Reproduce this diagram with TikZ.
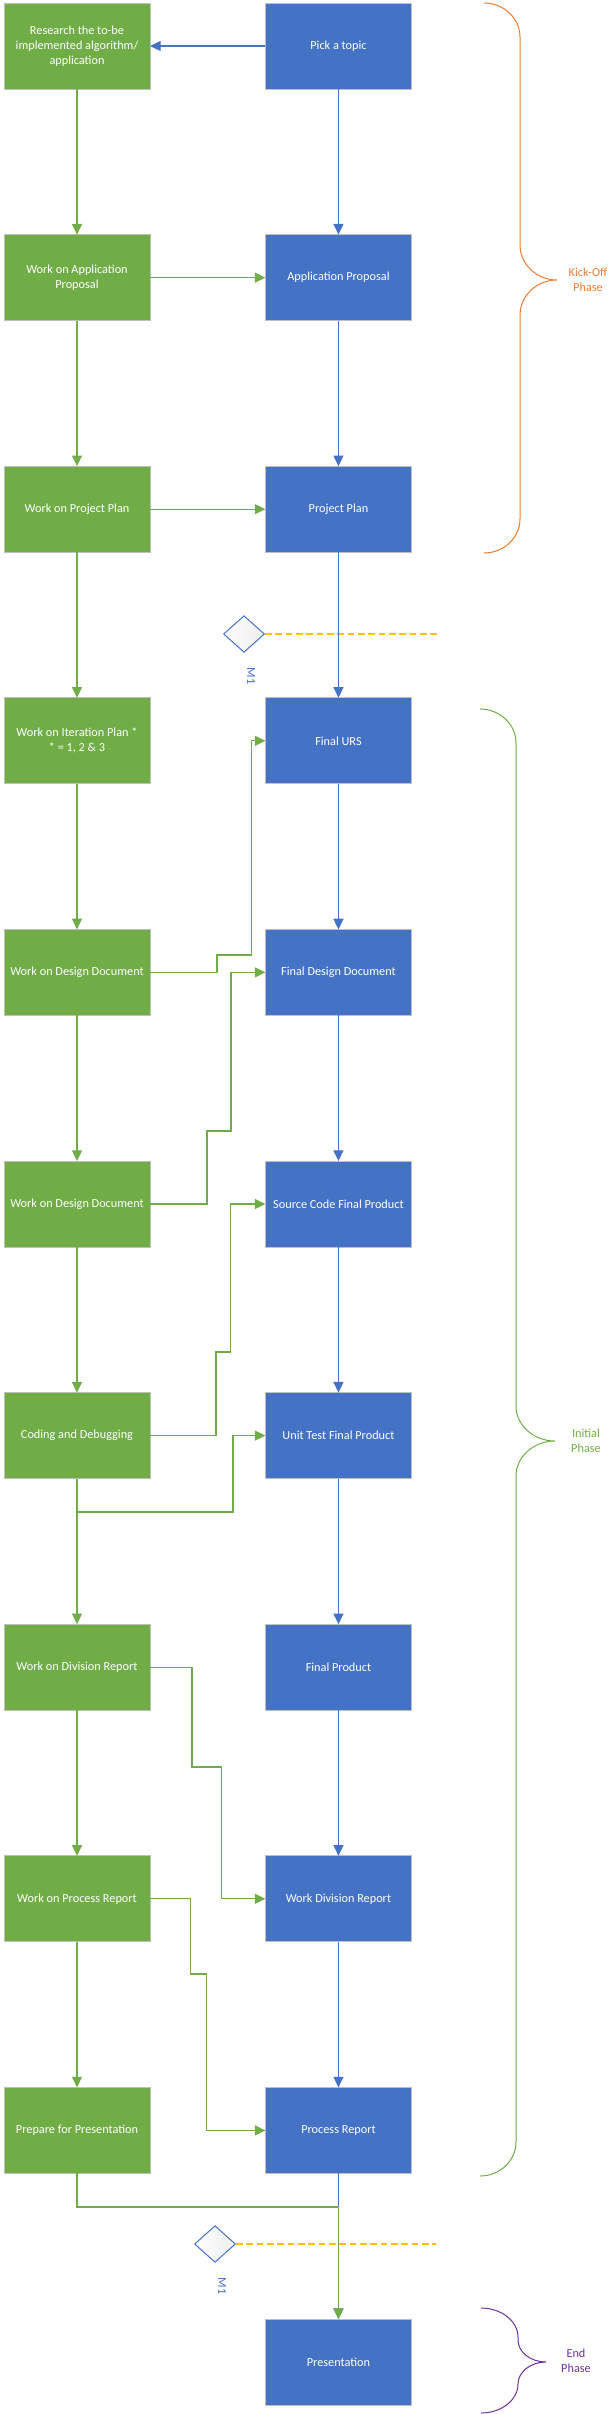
\documentclass[tikz,border=0pt]{standalone}
\usepackage{fontspec}
\setmainfont{Carlito}
\usepackage{tikz}
\usetikzlibrary{chains,positioning,arrows.meta,shapes.geometric}
\definecolor{workgreen}{HTML}{70AD47}
\definecolor{docblue}{HTML}{4472C4}
\definecolor{kickorange}{HTML}{ED7D31}
\definecolor{endpurple}{HTML}{7030A0}
\definecolor{mileamber}{HTML}{FFC000}
\tikzset{
  pb box/.style={
    rectangle,
    minimum width=109.5pt,
    minimum height=64.5pt,
    inner sep=2pt,
    outer sep=0pt,
    draw=black!25,
    line width=0.75pt,
    text=white,
    align=center,
    font=\fontsize{9.2}{11.25}\selectfont,
  },
  work box/.style={pb box, fill=workgreen},
  doc box/.style={pb box, fill=docblue},
  work arrow/.style={-{Triangle[length=8pt,width=7.5pt]}, line width=0.9pt, draw=workgreen},
  doc arrow/.style={-{Triangle[length=8pt,width=7.5pt]}, line width=0.9pt, draw=docblue},
  work line/.style={line width=0.9pt, draw=workgreen},
  milestone/.style={
    diamond,
    minimum width=30.75pt,
    minimum height=27.5pt,
    inner sep=0pt,
    draw=docblue,
    line width=0.75pt,
    left color=white,
    right color=black!7,
  },
  milestone label/.style={text=docblue, rotate=-90, inner sep=0pt, font=\fontsize{9.2}{11.25}\selectfont},
  milestone line/.style={draw=mileamber, dash pattern=on 5pt off 2.75pt, line width=0.9pt},
  phase brace/.style={line width=0.75pt},
  phase label/.style={align=center, inner sep=0pt, font=\fontsize{9.2}{11.25}\selectfont},
}
% #1 options, #2 tip x, #3 spine x, #4 point x, #5 top, #6 middle, #7 bottom, #8 end radius, #9 middle radius
\newcommand{\phasebrace}[9]{%
  \draw[phase brace,#1] (#2,#5)
    .. controls ({#2+0.55*(#3-#2)},#5) and (#3,{#5+0.45*#8}) .. (#3,{#5+#8})
    -- (#3,{#6-#9})
    .. controls (#3,{#6-0.45*#9}) and ({#4-0.55*(#4-#3)},#6) .. (#4,#6)
    .. controls ({#4-0.55*(#4-#3)},#6) and (#3,{#6+0.45*#9}) .. (#3,{#6+#9})
    -- (#3,{#7-#8})
    .. controls (#3,{#7-0.45*#8}) and ({#2+0.55*(#3-#2)},#7) .. (#2,#7);}

\begin{document}
\begin{tikzpicture}[
  x=0.75pt, y=-0.75pt,
  node distance=109.2pt and 86.6pt,
]
  \useasboundingbox (0,0) rectangle (610,2414);

  % milestones
  \node[milestone] (m1a) at (244,634) {};
  \coordinate (m1a end) at (438,634);
  \draw[milestone line] (m1a.east) -- (m1a end);
  \node[milestone label] (m1a label) at ([xshift=5.25pt,yshift=-31.5pt]m1a.center) {M1};
  \node[milestone] (m1b) at (215,2244) {};
  \coordinate (m1b end) at (436,2244);
  \draw[milestone line] (m1b.east) -- (m1b end);
  \node[milestone label] (m1b label) at ([xshift=5.25pt,yshift=-31.5pt]m1b.center) {M1};

  % tasks
  \begin{scope}[start chain=work going below, every node/.style={work box, on chain}, every join/.style={work arrow}]
    \node at (77,46) (research) {Research the to-be\\implemented algorithm/\\application};
    \node[join] (workap) {Work on Application\\Proposal};
    \node[join] (workpp) {Work on Project Plan};
    \node[join] (iterplan) {Work on Iteration Plan *\\* = 1, 2 \& 3};
    \node[join] (design1) {Work on Design Document};
    \node[join] (design2) {Work on Design Document};
    \node[join] (coding) {Coding and Debugging};
    \node[join] (division) {Work on Division Report};
    \node[join] (processwork) {Work on Process Report};
    \node[join] (prepare) {Prepare for Presentation};
  \end{scope}

  % deliverables
  \begin{scope}[start chain=doc going below, every node/.style={doc box, on chain}, every join/.style={doc arrow}]
    \node[right=of research] (topic) {Pick a topic};
    \node[join] (appprop) {Application Proposal};
    \node[join] (projplan) {Project Plan};
    \node[join] (urs) {Final URS};
    \node[join] (fdd) {Final Design Document};
    \node[join] (source) {Source Code Final Product};
    \node[join] (unit) {Unit Test Final Product};
    \node[join] (final) {Final Product};
    \node[join] (wdr) {Work Division Report};
    \node[join] (procrep) {Process Report};
    \node[join] (presentation) {Presentation};
  \end{scope}

  \draw[doc arrow] (topic.west) -- (research.east);
  \draw[work arrow] (workap.east) -- (appprop.west);
  \draw[work arrow] (workpp.east) -- (projplan.west);
  \draw[work line] (design1.east) -| (217,955) -| ([xshift=-10.5pt]urs.west);
  \draw[work arrow] ([xshift=-10.5pt]urs.west) -- (urs.west);
  \draw[work line] (design2.east) -| (207,1131) -| ([xshift=-25.9pt]fdd.west);
  \draw[work arrow] ([xshift=-25.9pt]fdd.west) -- (fdd.west);
  \draw[work line] (coding.east) -| (216,1352) -| ([xshift=-26.25pt]source.west);
  \draw[work arrow] ([xshift=-26.25pt]source.west) -- (source.west);
  \draw[work arrow] (coding.south) |- (233,1512) |- (unit.west);
  \draw[work line] (division.east) -| (192,1767) -| ([xshift=-33.2pt]wdr.west);
  \draw[work arrow] ([xshift=-33.2pt]wdr.west) -- (wdr.west);
  \draw[work line] (processwork.east) -| (190.5,1974) -| ([xshift=-44.25pt]procrep.west);
  \draw[work arrow] ([xshift=-44.25pt]procrep.west) -- (procrep.west);
  \draw[work arrow] (prepare.south) |- ([yshift=84pt]presentation.north) -- (presentation.north);

  % phases
  \phasebrace{kickorange}{484}{520}{557}{3}{280}{553}{34}{35}
  \node[phase label, text=kickorange] (kickoff) at (588,280) {Kick-Off\\Phase};
  \phasebrace{workgreen}{480}{516}{555}{709}{1441}{2176}{34}{35}
  \node[phase label, text=workgreen] (initial) at (586,1441) {Initial\\Phase};
  \phasebrace{endpurple}{481}{518}{546}{2308}{2362}{2413}{29}{22}
  \node[phase label, text=endpurple] (endphase) at (576,2361) {End\\Phase};
\end{tikzpicture}
\end{document}
